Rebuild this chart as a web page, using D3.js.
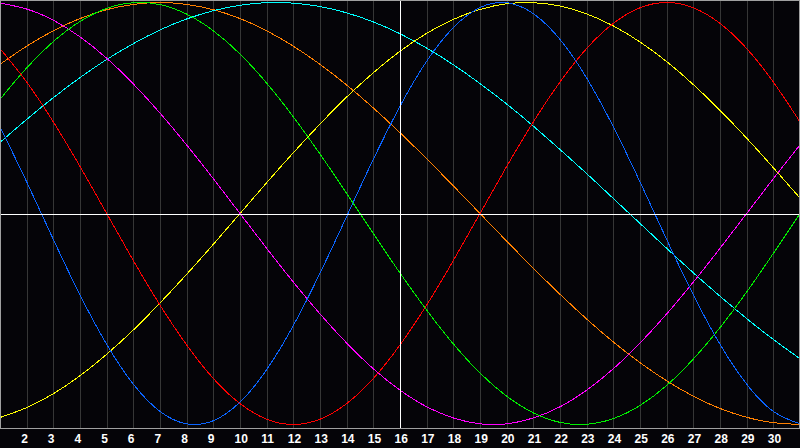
<!DOCTYPE html>
<html>
<head>
  <meta charset="utf-8">
  <script src="https://d3js.org/d3.v7.min.js"></script>
  <style>
    body { margin: 0; background: #050408; }
    .grid line { stroke: #363636; stroke-width: 1px; shape-rendering: crispEdges; }
    .grid path { display: none; }
    .grid text { fill: #ffffff; font-family: "Liberation Sans", Arial, sans-serif; font-weight: bold; font-size: 12px; }
    .frame { stroke: #a0a0a0; stroke-width: 1px; shape-rendering: crispEdges; fill: none; }
    .now { stroke: #ffffff; stroke-width: 1px; shape-rendering: crispEdges; }
    .cycle { fill: none; stroke-width: 1px; shape-rendering: crispEdges; }
  </style>
</head>
<body>
<div id="chart"></div>
<script>

// days of the month shown, and the labelled ones
var days = d3.range(1, 32);
var dayLabels = d3.range(2, 31);
var today = 16;

// cycle values (percent), one per day 1..31
var blue = [41.1, 15.0, -12.3, -38.6, -62.0, -80.9, -93.8, -99.7, -98.2, -89.4, -74.0, -53.1, -28.3, -1.4, 25.7, 50.8,
  72.2, 88.1, 97.6, 99.9, 94.7, 82.5, 64.2, 41.1, 15.0, -12.3, -38.6, -62.0, -80.9, -93.8, -99.7];
var red = [78.2, 62.3, 43.4, 22.3, 0, -22.3, -43.4, -62.3, -78.2, -90.1, -97.5, -100, -97.5, -90.1, -78.2, -62.3,
  -43.4, -22.3, 0, 22.3, 43.4, 62.3, 78.2, 90.1, 97.5, 100, 97.5, 90.1, 78.2, 62.3, 43.4];
var green = [54.1, 69.0, 81.5, 91.0, 97.2, 99.9, 99.0, 94.5, 86.6, 75.6, 61.8, 45.8, 28.2, 9.5, -9.5, -28.2,
  -45.8, -61.8, -75.6, -86.6, -94.5, -99.0, -99.9, -97.2, -91.0, -81.5, -69.0, -54.1, -37.2, -18.9, 0];
var magenta = [99.7, 96.9, 91.6, 83.7, 73.6, 61.4, 47.6, 32.5, 16.5, 0, -16.5, -32.5, -47.6, -61.4, -73.6, -83.7,
  -91.6, -96.9, -99.7, -99.7, -96.9, -91.6, -83.7, -73.6, -61.4, -47.6, -32.5, -16.5, 0, 16.5, 32.5];
var yellow = [-96.7, -92.0, -85.4, -76.9, -66.7, -55.2, -42.4, -28.8, -14.6, 0, 14.6, 28.8, 42.4, 55.2, 66.7, 76.9,
  85.4, 92.0, 96.7, 99.4, 99.9, 98.3, 94.6, 88.9, 81.3, 72.0, 61.1, 48.9, 35.7, 21.7, 7.3];
var orange = [70.7, 79.3, 86.6, 92.4, 96.6, 99.1, 100, 99.1, 96.6, 92.4, 86.6, 79.3, 70.7, 60.9, 50.0, 38.3,
  25.9, 13.1, 0, -13.1, -25.9, -38.3, -50.0, -60.9, -70.7, -79.3, -86.6, -92.4, -96.6, -99.1, -100];
var cyan = [33.7, 44.6, 54.9, 64.4, 73.0, 80.5, 87.0, 92.2, 96.1, 98.7, 99.9, 99.7, 98.1, 95.1, 90.8, 85.2,
  78.4, 70.5, 61.6, 51.9, 41.4, 30.3, 18.9, 7.1, -4.7, -16.5, -28.1, -39.2, -49.8, -59.7, -68.8];

var cycles = [
  {color: "#ff8000", values: orange},
  {color: "#00ffff", values: cyan},
  {color: "#ffff00", values: yellow},
  {color: "#ff00ff", values: magenta},
  {color: "#00ee00", values: green},
  {color: "#ff0000", values: red},
  {color: "#0a64ff", values: blue}
];

var width = 800, height = 448, plotH = 428;

var x = d3.scaleLinear().domain([1, 31]).range([0, width]);
var y = d3.scaleLinear().domain([-100, 100]).range([424.5, 2.5]);

var svg = d3.select("#chart").append("svg")
  .attr("width", width)
  .attr("height", height);

svg.append("rect")
  .attr("width", width)
  .attr("height", height)
  .attr("fill", "#050408");

// day grid + labels
var grid = svg.append("g")
  .attr("class", "grid")
  .attr("transform", "translate(0," + plotH + ")")
  .call(d3.axisBottom(x).tickValues(dayLabels).tickSize(-plotH).tickFormat(d3.format("d")));

grid.selectAll("text")
  .attr("text-anchor", "start")
  .attr("x", -6)
  .attr("y", 15)
  .attr("dy", 0);

var line = d3.line()
  .x(function(d, i) { return x(days[i]); })
  .y(function(d) { return y(d); })
  .curve(d3.curveNatural);

svg.selectAll(".cycle")
  .data(cycles)
  .enter().append("path")
    .attr("class", "cycle")
    .attr("stroke", function(d) { return d.color; })
    .attr("d", function(d) { return line(d.values); });

// zero line and today marker
svg.append("line")
  .attr("class", "now")
  .attr("x1", 0).attr("x2", width)
  .attr("y1", Math.round(y(0)) + 0.5).attr("y2", Math.round(y(0)) + 0.5);

svg.append("line")
  .attr("class", "now")
  .attr("x1", x(today)).attr("x2", x(today))
  .attr("y1", 0).attr("y2", plotH);

// frame
svg.append("path")
  .attr("class", "frame")
  .attr("d", "M0.5," + plotH + ".5V0.5H" + (width - 0.5) + "V" + plotH + ".5H0.5");

</script>
</body>
</html>
